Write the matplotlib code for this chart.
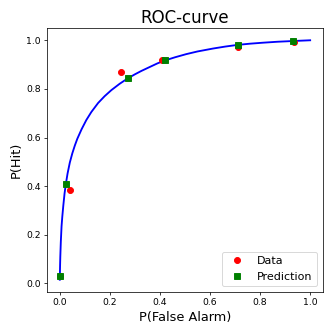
import matplotlib
matplotlib.use("Agg")
import matplotlib.pyplot as plt

# observed hit / false alarm rates
data_fa = [0.0, 0.04, 0.246, 0.41, 0.71, 0.936]
data_hit = [0.03, 0.383, 0.869, 0.918, 0.973, 0.993]

# model predictions
pred_fa = [0.0, 0.024, 0.271, 0.42, 0.71, 0.933]
pred_hit = [0.03, 0.408, 0.843, 0.918, 0.981, 0.997]

# model curve
curve_fa = [0.0, 0.001, 0.002, 0.004, 0.007, 0.010, 0.014, 0.019, 0.024, 0.031,
            0.04, 0.05, 0.06, 0.07, 0.087, 0.106, 0.126, 0.153, 0.179, 0.206,
            0.239, 0.271, 0.3, 0.326, 0.359, 0.39, 0.42, 0.46, 0.505, 0.55,
            0.612, 0.66, 0.71, 0.76, 0.811, 0.87, 0.933, 1.0]
curve_hit = [0.015, 0.07, 0.11, 0.17, 0.235, 0.275, 0.32, 0.37, 0.408, 0.452,
             0.497, 0.535, 0.567, 0.595, 0.634, 0.672, 0.705, 0.742, 0.770, 0.795,
             0.821, 0.843, 0.86, 0.874, 0.890, 0.905, 0.917, 0.930, 0.943, 0.954,
             0.966, 0.974, 0.981, 0.986, 0.990, 0.994, 0.997, 1.0]

fig = plt.figure(figsize=(5, 5), dpi=66.6)
plt.plot(curve_fa, curve_hit, color="blue", linewidth=2)
plt.plot(data_fa, data_hit, "o", color="red", markersize=6.5, label="Data")
plt.plot(pred_fa, pred_hit, "s", color="green", markersize=6.5, label="Prediction")
plt.title("ROC-curve", fontsize=18)
plt.xlabel("P(False Alarm)", fontsize=14)
plt.ylabel("P(Hit)", fontsize=14)
plt.xticks(fontsize=10)
plt.yticks(fontsize=10)
plt.legend(loc="lower right", fontsize=12)
plt.subplots_adjust(left=0.142, right=0.969, top=0.915, bottom=0.124)
plt.savefig("out.png", dpi=66.6)
